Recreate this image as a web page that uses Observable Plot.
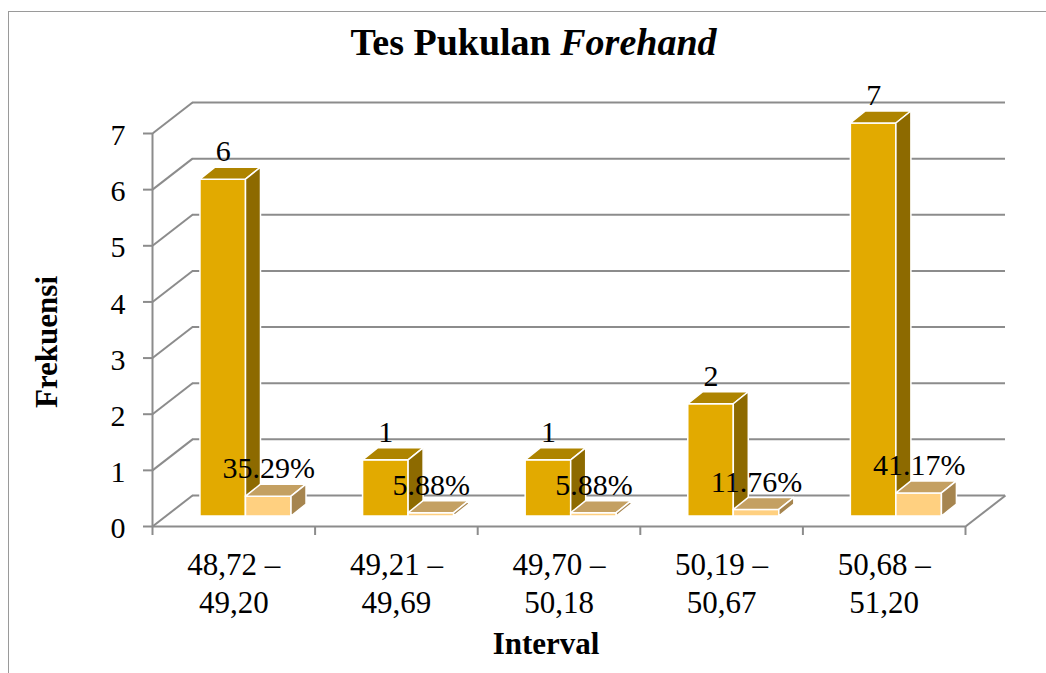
<!DOCTYPE html>
<html>
<head>
<meta charset="utf-8">
<script src="https://cdn.jsdelivr.net/npm/d3@7"></script>
<script src="https://cdn.jsdelivr.net/npm/@observablehq/plot@0.6"></script>
<style>
  body { margin: 0; background: #fff; }
  #wrap { position: relative; width: 1046px; height: 673px; overflow: hidden; background: #fff; }
  #frame { position: absolute; left: 8px; top: 11px; width: 1200px; height: 800px;
           border-left: 1.5px solid #9a9a9a; border-top: 1.5px solid #9a9a9a; pointer-events: none; }
  #title { position: relative; height: 80px; box-sizing: border-box; padding-top: 20px; padding-left: 21px;
           line-height: 38px; font: bold 38px "Liberation Serif", "Times New Roman", serif;
           text-align: center; color: #000; }
  #chart svg { display: block; }
</style>
</head>
<body>
<div id="wrap">
  <div id="frame"></div>
  <div id="title">Tes Pukulan <i>Forehand</i></div>
  <div id="chart"></div>
</div>
<script>
// ---- data ----
const categories = ["48,72 –\n49,20", "49,21 –\n49,69", "49,70 –\n50,18", "50,19 –\n50,67", "50,68 –\n51,20"];
const frekuensi = [6, 1, 1, 2, 7];
const persen = [35.29, 5.88, 5.88, 11.76, 41.17];
const yTicks = [0, 1, 2, 3, 4, 5, 6, 7];

// ---- layout ----
const FONT = '"Liberation Serif", "Times New Roman", serif';
const W = 1046, H = 593;
const mL = 152, mR = 81, mT = 53, mB = 147;
const kx = (W - mL - mR) / categories.length;   // px per category
const ky = (H - mT - mB) / 7;                   // px per unit
const WALL_DX = 40 / kx, WALL_DY = 31 / ky;     // back wall depth in data units
const BAR_DX = 15 / kx, BAR_DY = 12 / ky;       // bar depth in data units
const PLANE_DY = -10;                           // bars sit slightly behind the front plane (px)
const GRID = "#8c8c8c";

const series = [
  {key: "f", x0: 0.295, x1: 0.575, front: "#E2AA00", top: "#AE8400", side: "#8D6A00",
   vals: frekuensi, label: v => String(v)},
  {key: "p", x0: 0.575, x1: 0.855, front: "#FFD080", top: "#C4A062", side: "#A6854F",
   vals: persen.map(p => p / 100), label: (v, i) => persen[i].toFixed(2) + "%"}
];

const rowsFor = s => s.vals.map((v, i) => ({id: s.key + i, i, v, xl: i + s.x0, xr: i + s.x1, lab: s.label(v, i)}));

const barMarks = [];
for (const s of series) {
  const rows = rowsFor(s);
  const topPts = rows.flatMap(r => [
    {id: r.id, y: r.v, x1: r.xl, x2: r.xr},
    {id: r.id, y: r.v + BAR_DY, x1: r.xl + BAR_DX, x2: r.xr + BAR_DX}
  ]);
  const sidePts = rows.flatMap(r => [
    {id: r.id, x: r.xr, y1: 0, y2: r.v},
    {id: r.id, x: r.xr + BAR_DX, y1: BAR_DY, y2: r.v + BAR_DY}
  ]);
  barMarks.push(
    Plot.rect(rows, {x1: "xl", x2: "xr", y1: 0, y2: "v", fill: s.front, stroke: "white", strokeWidth: 1.5, dy: PLANE_DY}),
    Plot.areaX(topPts, {y: "y", x1: "x1", x2: "x2", z: "id", fill: s.top, stroke: "white", strokeWidth: 1.5, dy: PLANE_DY}),
    Plot.areaY(sidePts, {x: "x", y1: "y1", y2: "y2", z: "id", fill: s.side, stroke: "white", strokeWidth: 1.5, dy: PLANE_DY})
  );
}

const labelMarks = series.map(s => Plot.text(rowsFor(s), {
  x: r => (r.xl + r.xr) / 2, y: "v", text: "lab", dy: PLANE_DY - 28,
  fontSize: 30, fontFamily: FONT, fill: "black", lineAnchor: "middle"
}));

const catRows = categories.map((c, i) => ({c, i}));

const chart = Plot.plot({
  width: W, height: H,
  marginLeft: mL, marginRight: mR, marginTop: mT, marginBottom: mB,
  x: {type: "linear", domain: [0, categories.length], axis: null},
  y: {type: "linear", domain: [0, 7], axis: null},
  style: {fontFamily: FONT, background: "transparent", overflow: "visible"},
  marks: [
    // back wall gridlines
    Plot.ruleY(yTicks, {y: d => d, x1: 0, x2: categories.length, dx: 40, dy: -31, stroke: GRID, strokeWidth: 2}),
    // side wall diagonals
    Plot.link(yTicks, {x1: 0, y1: d => d, x2: WALL_DX, y2: d => d + WALL_DY, stroke: GRID, strokeWidth: 2}),
    // floor front edge and right edge
    Plot.ruleY([0], {x1: 0, x2: categories.length, stroke: GRID, strokeWidth: 2}),
    Plot.link([categories.length], {x1: d => d, y1: 0, x2: d => d + WALL_DX, y2: WALL_DY, stroke: GRID, strokeWidth: 2}),
    // y axis line + ticks
    Plot.ruleX([0], {y1: 0, y2: 7, stroke: GRID, strokeWidth: 2}),
    Plot.ruleY(yTicks, {y: d => d, x1: 0, x2: -9 / kx, stroke: GRID, strokeWidth: 2}),
    // x ticks
    Plot.ruleX(d3.range(categories.length + 1), {y1: 0, y2: -9 / ky, stroke: GRID, strokeWidth: 2}),
    // y tick labels
    Plot.text(yTicks, {x: 0, y: d => d, text: d => String(d), dx: -27, dy: 2, textAnchor: "end",
                       lineAnchor: "middle", fontSize: 30, fontFamily: FONT, fill: "black"}),
    ...barMarks,
    ...labelMarks,
    // category labels
    Plot.text(catRows, {x: d => d.i + 0.5, y: 0, text: "c", lineAnchor: "top", dy: 21,
                        fontSize: 31, fontFamily: FONT, lineHeight: 1.23, fill: "black"}),
    // axis titles
    Plot.text(["Frekuensi"], {frameAnchor: "left", rotate: -90, dx: -105, dy: 12,
                              textAnchor: "middle", lineAnchor: "middle",
                              fontSize: 31, fontFamily: FONT, fontWeight: "bold", fill: "black"}),
    Plot.text(["Interval"], {frameAnchor: "bottom", dx: -13, dy: 118, textAnchor: "middle", lineAnchor: "middle",
                             fontSize: 31, fontFamily: FONT, fontWeight: "bold", fill: "black"})
  ]
});
document.getElementById("chart").appendChild(chart);
</script>
</body>
</html>
